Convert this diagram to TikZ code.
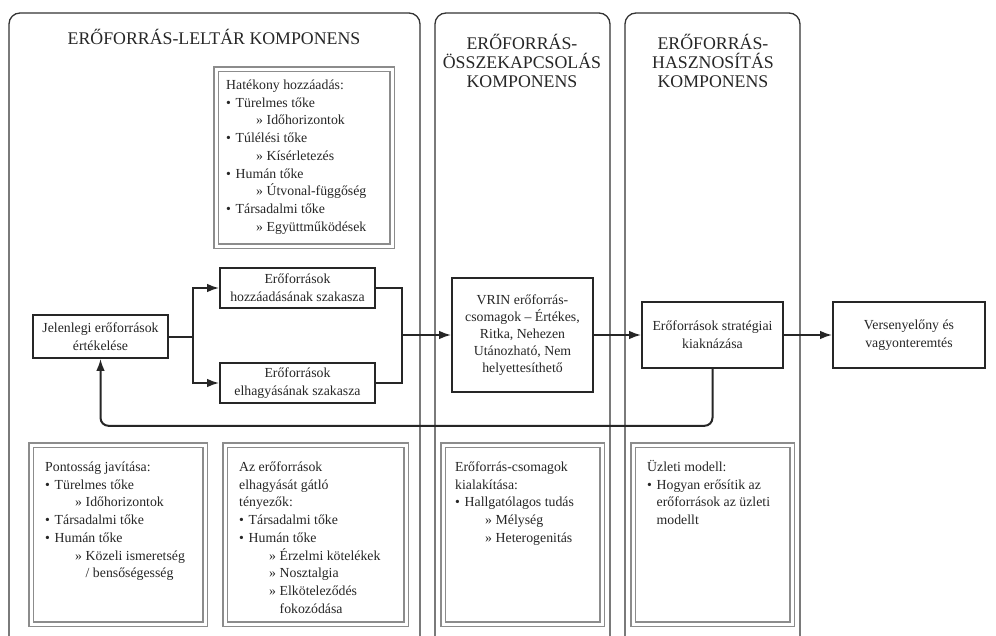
\documentclass[tikz,border=0pt]{standalone}
\usepackage{fontspec}
\setmainfont{Liberation Serif}
\usetikzlibrary{arrows.meta}
\newcommand\bodyfont{\fontsize{13.8}{17.7}\selectfont}
\newcommand\titlefont{\fontsize{17.8}{19.2}\selectfont}
\newcommand\bu{\makebox[9.5pt][l]{\textbullet}}
\newcommand\subi{\hspace*{30pt}\makebox[10.5pt][l]{»}}
\newcommand\subc{\hspace*{40.5pt}}
\newcommand\buc{\hspace*{9.5pt}}
\begin{document}
\begin{tikzpicture}[x=1pt,y=-1pt,
  panel/.style={draw=black!80, line width=1.3pt, rounded corners=11pt},
  title/.style={font=\titlefont, align=center, inner sep=0pt, text=black!85},
  flow/.style={draw=black!85, line width=1.6pt, fill=white, align=center, font=\bodyfont, inner sep=0pt, text=black!85},
  dbox/.style={draw=black!45, line width=1.1pt, double=white, double distance=3pt, inner sep=0pt},
  txt/.style={font=\bodyfont, align=left, anchor=north west, inner sep=0pt, text=black!85},
  conn/.style={draw=black!85, line width=2pt},
  arr/.style={conn, -{Latex[length=12pt,width=8.5pt]}}]
\useasboundingbox (0,0) rectangle (996,635);
\fill[white] (0,0) rectangle (996,635);
\begin{scope}
\clip (0,0) rectangle (996,635);
\draw[panel] (9,13) rectangle (420,648);
\draw[panel] (435,13) rectangle (610,648);
\draw[panel] (625,13) rectangle (800,648);
\end{scope}

% titles
\node[title] (t1) at (214,37) {ERŐFORRÁS-LELTÁR KOMPONENS};
\node[title] (t2) at (522,61) {ERŐFORRÁS-\\ÖSSZEKAPCSOLÁS\\KOMPONENS};
\node[title] (t3) at (713,61) {ERŐFORRÁS-\\HASZNOSÍTÁS\\KOMPONENS};

% double boxes
\node[dbox, minimum width=176pt, minimum height=177pt] (hat) at (304,157.5) {};
\node[dbox, minimum width=174pt, minimum height=179pt] (pont) at (118,534.5) {};
\node[dbox, minimum width=181pt, minimum height=179pt] (gatlo) at (315.5,534.5) {};
\node[dbox, minimum width=159pt, minimum height=179pt] (csom) at (522.5,534.5) {};
\node[dbox, minimum width=159pt, minimum height=179pt] (uzl) at (712.5,534.5) {};

\node[txt] (hatT) at (226,77) {\strut Hatékony hozzáadás:\\
\bu Türelmes tőke\\
\subi Időhorizontok\\
\bu Túlélési tőke\\
\subi Kísérletezés\\
\bu Humán tőke\\
\subi Útvonal-függőség\\
\bu Társadalmi tőke\\
\subi Együttműködések};

\node[txt] (pontT) at (45,459) {\strut Pontosság javítása:\\
\bu Türelmes tőke\\
\subi Időhorizontok\\
\bu Társadalmi tőke\\
\bu Humán tőke\\
\subi Közeli ismeretség\\
\subc / bensőségesség};

\node[txt] (gatloT) at (239,459) {\strut Az erőforrások\\
elhagyását gátló\\
tényezők:\\
\bu Társadalmi tőke\\
\bu Humán tőke\\
\subi Érzelmi kötelékek\\
\subi Nosztalgia\\
\subi Elköteleződés\\
\subc fokozódása};

\node[txt] (csomT) at (455,459) {\strut Erőforrás-csomagok\\
kialakítása:\\
\bu Hallgatólagos tudás\\
\subi Mélység\\
\subi Heterogenitás};

\node[txt] (uzlT) at (647,459) {\strut Üzleti modell:\\
\bu Hogyan erősítik az\\
\buc erőforrások az üzleti\\
\buc modellt};

\coordinate (split) at (193,336.5);
\coordinate (merge) at (402,335);

% flow boxes
\node[flow, minimum width=135pt, minimum height=43pt] (jel) at (100.5,336.5) {Jelenlegi erőforrások\\értékelése};
\node[flow, minimum width=155pt, minimum height=40pt] (hoz) at (297.5,288) {Erőforrások\\hozzáadásának szakasza};
\node[flow, minimum width=155pt, minimum height=40pt] (elh) at (297.5,383) {Erőforrások\\elhagyásának szakasza};
\node[flow, minimum width=141pt, minimum height=114pt, font=\fontsize{13.8}{17}\selectfont] (vrin) at (522.5,335) {VRIN erőforrás-\\csomagok – Értékes,\\Ritka, Nehezen\\Utánozható, Nem\\helyettesíthető};
\node[flow, minimum width=141pt, minimum height=66pt] (strat) at (712.5,335) {Erőforrások stratégiai\\kiaknázása};
\node[flow, minimum width=152pt, minimum height=66pt] (vers) at (909,335) {Versenyelőny és\\vagyonteremtés};

% connectors
\draw[conn] (jel.east) -- (split);
\draw[arr] (split) |- (hoz.west);
\draw[arr] (split) |- (elh.west);
\draw[conn] (hoz.east) -| (merge);
\draw[conn] (elh.east) -| (merge);
\draw[arr] (merge) -- (vrin.west);
\draw[arr] (vrin.east) -- (strat.west);
\draw[arr] (strat.east) -- (vers.west);
\draw[arr, rounded corners=8pt] (strat.south) -- ++(0,57) -| (jel.south);
\end{tikzpicture}
\end{document}
